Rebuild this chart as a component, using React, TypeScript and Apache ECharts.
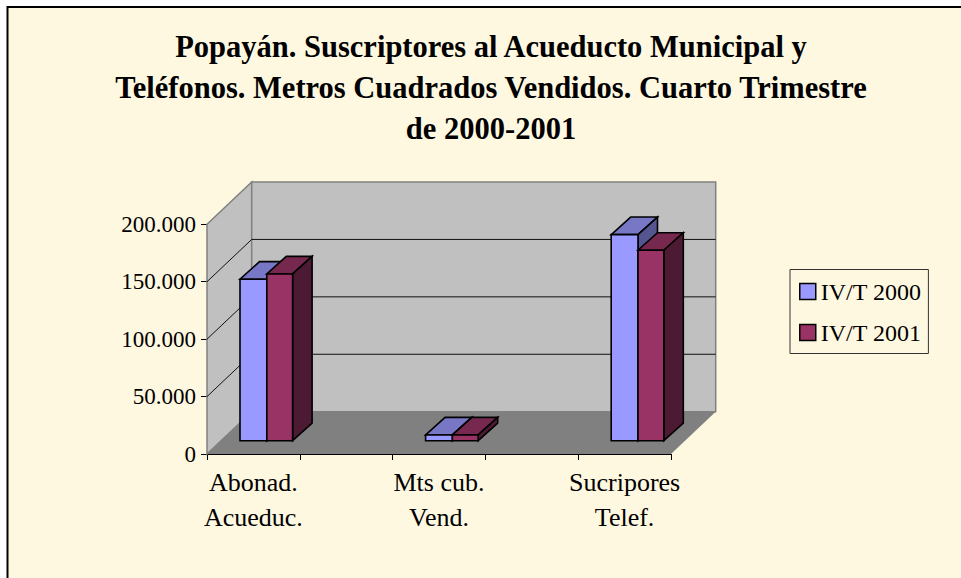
import React, { useEffect, useRef } from "react";
import * as echarts from "echarts";

const titleLines = [
  "Popayán. Suscriptores al Acueducto Municipal y",
  "Teléfonos. Metros Cuadrados Vendidos. Cuarto Trimestre",
  "de 2000-2001",
];
const categories = ["Abonad.\nAcueduc.", "", "Mts cub.\nVend.", "", "Sucripores\nTelef."];
const seriesNames = ["IV/T 2000", "IV/T 2001"];
const values2000 = [140600, null, 5000, null, 179400];
const values2001 = [145200, null, 5000, null, 165800];
const yTicks = [50000, 100000, 150000, 200000];

const WALL_DX = 44.7;
const WALL_DY = 42.3;
const BAR_SHIFT_X = 13.4;
const BAR_SHIFT_Y = 13.3;
const BAR_DX = 19.5;
const BAR_DY = 17.6;
const BAR_W = [26.8, 25.8];
const FONT = '"Liberation Serif", "Times New Roman", serif';

const palettes = [
  { front: "#9999ff", top: "#7777c6", side: "#55558f" },
  { front: "#993366", top: "#77284f", side: "#4d1a33" },
];

function poly(points: number[][], fill: string, stroke: string, lineWidth: number) {
  return {
    type: "polygon",
    shape: { points },
    style: { fill, stroke, lineWidth, lineJoin: "miter" },
  };
}

function renderWalls(params: any, api: any) {
  const c = params.coordSys;
  const x0 = c.x;
  const x1 = c.x + c.width;
  const y0 = c.y + c.height;
  const y1 = c.y;
  const gray = "#808080";
  const children: any[] = [
    poly([[x0, y0], [x1, y0], [x1 + WALL_DX, y0 - WALL_DY], [x0 + WALL_DX, y0 - WALL_DY]], gray, "none", 0),
    poly([[x0, y0], [x0 + WALL_DX, y0 - WALL_DY], [x0 + WALL_DX, y1 - WALL_DY], [x0, y1]], "#c0c0c0", gray, 1.5),
    poly([[x0 + WALL_DX, y0 - WALL_DY], [x1 + WALL_DX, y0 - WALL_DY], [x1 + WALL_DX, y1 - WALL_DY], [x0 + WALL_DX, y1 - WALL_DY]], "#c0c0c0", gray, 1.5),
  ];
  yTicks.forEach((v) => {
    const y = api.coord([0, v])[1];
    const last = v === yTicks[yTicks.length - 1];
    if (last) return;
    children.push({
      type: "polyline",
      shape: { points: [[x0, y], [x0 + WALL_DX, y - WALL_DY], [x1 + WALL_DX, y - WALL_DY]] },
      style: { fill: "none", stroke: "#111", lineWidth: 1 },
    });
  });
  return { type: "group", children };
}

function makeBarRenderer(index: number) {
  return (params: any, api: any) => {
    const v = api.value(1);
    if (v == null || isNaN(v)) return null;
    const p = palettes[index];
    const base = api.coord([api.value(0), 0]);
    const top = api.coord([api.value(0), v]);
    const mid = base[0] + BAR_SHIFT_X;
    const xL = index === 0 ? mid - BAR_W[0] : mid;
    const xR = index === 0 ? mid : mid + BAR_W[1];
    const yB = base[1] - BAR_SHIFT_Y;
    const yT = top[1] - BAR_SHIFT_Y;
    const s = "#000";
    const lw = 1.6;
    return {
      type: "group",
      children: [
        poly([[xL, yT], [xR, yT], [xR + BAR_DX, yT - BAR_DY], [xL + BAR_DX, yT - BAR_DY]], p.top, s, lw),
        poly([[xR, yB], [xR + BAR_DX, yB - BAR_DY], [xR + BAR_DX, yT - BAR_DY], [xR, yT]], p.side, s, lw),
        poly([[xL, yB], [xR, yB], [xR, yT], [xL, yT]], p.front, s, lw),
      ],
    };
  };
}

function toData(vals: (number | null)[]) {
  return vals.map((v, i) => [i, v]);
}

export default function App() {
  const ref = useRef<HTMLDivElement>(null);
  useEffect(() => {
    const chart = echarts.init(ref.current!, null, { renderer: "svg" });
    chart.setOption({
      animation: false,
      backgroundColor: "#ffffff",
      graphic: [
        {
          type: "rect",
          z: -10,
          shape: { x: 7.5, y: 7, width: 980, height: 600 },
          style: { fill: "#fff8e1", stroke: "#000", lineWidth: 2 },
        },
      ],
      title: {
        text: titleLines.join("\n"),
        left: 486,
        top: 21,
        textAlign: "center",
        textStyle: {
          fontFamily: FONT,
          fontWeight: "bold",
          fontSize: 30.5,
          lineHeight: 41,
          color: "#000",
        },
      },
      legend: {
        data: seriesNames,
        orient: "vertical",
        left: 790,
        top: 269.5,
        padding: [8.5, 7, 7.5, 9],
        itemGap: 14,
        itemWidth: 16,
        itemHeight: 16,
        icon: "rect",
        backgroundColor: "#fff8e1",
        borderColor: "#333",
        borderWidth: 1,
        itemStyle: { borderColor: "#000", borderWidth: 1.5 },
        textStyle: { fontFamily: FONT, fontSize: 24, lineHeight: 27, color: "#000" },
      },
      grid: { left: 207, top: 224.3, width: 464, height: 229.7, containLabel: false },
      xAxis: {
        type: "category",
        data: categories,
        boundaryGap: true,
        axisLine: { show: true, lineStyle: { color: "#000", width: 1 } },
        axisTick: { show: true, length: 6, alignWithLabel: false, interval: 0, lineStyle: { color: "#000", width: 1 } },
        axisLabel: { interval: 0, margin: 11, fontFamily: FONT, fontSize: 26, lineHeight: 35, color: "#000" },
        splitLine: { show: false },
      },
      yAxis: {
        type: "value",
        min: 0,
        max: 200000,
        interval: 50000,
        axisLine: { show: true, lineStyle: { color: "#000", width: 1 } },
        axisTick: { show: true, length: 6, lineStyle: { color: "#000", width: 1 } },
        axisLabel: {
          margin: 11,
          fontFamily: FONT,
          fontSize: 23,
          color: "#000",
          padding: [4, 0, 0, 0],
          formatter: (v: number) => (v === 0 ? "0" : String(v / 1000) + ".000"),
        },
        splitLine: { show: false },
      },
      series: [
        {
          name: "walls",
          type: "custom",
          data: [[0, 0]],
          z: 1,
          renderItem: renderWalls,
          silent: true,
        },
        {
          name: seriesNames[0],
          type: "custom",
          data: toData(values2000),
          encode: { x: 0, y: 1 },
          z: 3,
          itemStyle: { color: palettes[0].front },
          renderItem: makeBarRenderer(0),
        },
        {
          name: seriesNames[1],
          type: "custom",
          data: toData(values2001),
          encode: { x: 0, y: 1 },
          z: 4,
          itemStyle: { color: palettes[1].front },
          renderItem: makeBarRenderer(1),
        },
      ],
    });
    return () => chart.dispose();
  }, []);
  return (
    <div
      ref={ref}
      style={{ position: "absolute", left: 0, top: 0, width: 961, height: 578, overflow: "hidden" }}
    />
  );
}
